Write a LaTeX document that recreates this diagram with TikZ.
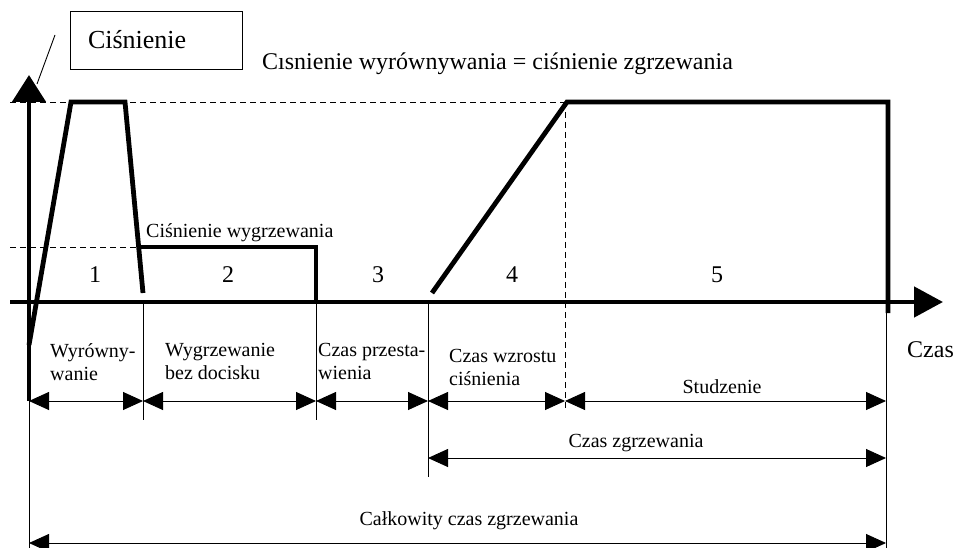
\documentclass[tikz,border=0pt]{standalone}
\usepackage{fontspec}
\setmainfont{Liberation Serif}
\usetikzlibrary{arrows.meta}

\tikzset{
  przebieg/.style={line width=4.8pt, line join=miter},
  osx/.style={line width=4.8pt, -{Triangle[length=29pt,width=30pt]}},
  osy/.style={line width=4.8pt, -{Triangle[length=27pt,width=33pt]}},
  pomoc/.style={line width=0.9pt, dash pattern=on 6pt off 4pt},
  cienka/.style={line width=0.9pt},
  wymiar/.style={line width=0.9pt, {Triangle[length=20pt,width=18pt]}-{Triangle[length=20pt,width=18pt]}},
  opis/.style={font=\fontsize{20}{23}\selectfont, inner sep=0pt, align=left},
  faza/.style={font=\fontsize{24}{28}\selectfont, inner sep=0pt},
}

\begin{document}
\begin{tikzpicture}[x=1pt,y=-1pt]
    \useasboundingbox (0,0) rectangle (956,548);
    % Granice faz na osi czasu
    \coordinate (t0) at (29,302);
    \coordinate (t1) at (143,302);
    \coordinate (t2) at (316,302);
    \coordinate (t3) at (428,302);
    \coordinate (t4) at (565,302);
    \coordinate (t5) at (886,302);
    % Poziomy linii wymiarowych
    \coordinate (w1) at (0,401);
    \coordinate (w2) at (0,458);
    \coordinate (w3) at (0,543);
    % Poziomy cisnien
    \coordinate (pmax) at (10,102);
    \coordinate (pgrz) at (10,247);

    % Linie pomocnicze
    \draw[pomoc] (pmax) -- (t5 |- pmax);
    \draw[pomoc] (pgrz) -- (141,247);
    \draw[pomoc] (t4 |- pmax) -- (565,410);
    \foreach \t/\d in {t1/118, t2/118, t3/175, t5/246}
        \draw[cienka] (\t) -- ++(0,\d);
    \draw[cienka] (t0 |- w1) -- (29,548);

    % Osie
    \draw[osy] (t0 |- w1) -- (29,75);
    \draw[osx] (10,302) -- (943,302);

    % Przebieg cisnienia
    \draw[przebieg] (29,345) -- (71,102) -- (125,102) -- (143,293);
    \draw[przebieg] (141,247) -- (316,247) -- (t2);
    \draw[przebieg] (432,293) -- (567,102) -- (888,102) -- (888,313);

    % Linie wymiarowe
    \foreach \a/\b in {t0/t1, t1/t2, t2/t3, t3/t4, t4/t5}
        \draw[wymiar] (\a |- w1) -- (\b |- w1);
    \draw[wymiar] (t3 |- w2) -- (t5 |- w2);
    \draw[wymiar] (t0 |- w3) -- (t5 |- w3);

    % Opisy
    \node[draw, line width=0.9pt, minimum width=172pt, minimum height=58pt,
          text width=136pt, align=left, inner sep=0pt,
          font=\fontsize{26}{30}\selectfont] (cisnienie) at (156,40) {Ciśnienie};
    \draw[cienka] (55,35) -- (37,84);
    \node[font=\fontsize{24}{28}\selectfont, anchor=base west, inner sep=0pt]
        (pwyr) at (262,70) {Cısnienie wyrównywania = ciśnienie zgrzewania};
    \node[font=\fontsize{20}{22}\selectfont, anchor=base west, inner sep=0pt]
        (pwygrz) at (146,237) {Ciśnienie wygrzewania};
    \foreach \x/\n in {95/1, 228/2, 378/3, 512/4, 717/5}
        \node[faza, anchor=base] (f\n) at (\x,282) {\n};
    \node[opis, anchor=north west] (wyr) at (50,343) {Wyrówny-\\wanie};
    \node[opis, anchor=north west] (wygrz) at (165,343) {Wygrzewanie\\bez docisku};
    \node[opis, anchor=north west] (przest) at (318,343) {Czas przesta-\\wienia};
    \node[opis, anchor=north west] (wzrost) at (449,349) {Czas wzrostu\\ciśnienia};
    \node[opis, anchor=base] (stud) at (722,393) {Studzenie};
    \node[font=\fontsize{24}{28}\selectfont, anchor=base west, inner sep=0pt]
        (czas) at (907,357) {Czas};
    \node[opis, anchor=base] (czgrz) at (636,447) {Czas zgrzewania};
    \node[opis, anchor=base] (calk) at (469,525) {Całkowity czas zgrzewania};
\end{tikzpicture}
\end{document}
